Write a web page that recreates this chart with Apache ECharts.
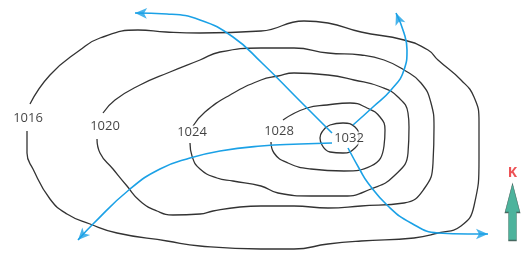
<!DOCTYPE html>
<html>
<head>
<meta charset="utf-8">
<script src="https://cdn.jsdelivr.net/npm/echarts@6/dist/echarts.min.js"></script>
<style>
  html, body { margin: 0; padding: 0; background: #fff; }
  #chart { width: 523px; height: 253px; }
</style>
</head>
<body>
<div id="chart"></div>
<script>
// isobar traces (x, y in picture units, y grows downward)
const iso1016 = [[27,131],[27,153],[33,169],[50,199],[67,214],[90,224],[117,233],[167,241],[200,246],[261,249],[294,249],[328,244],[361,241],[414,238],[438,233],[461,226],[474,206],[479,159],[479,122],[474,97],[461,80],[438,60],[428,50],[404,40],[361,32],[328,23],[304,21],[261,31],[200,33],[166,32],[138,30],[100,38],[80,50],[50,75],[30,104]];
const iso1020 = [[97,139],[100,153],[113,169],[127,186],[140,201],[157,211],[173,215],[200,214],[213,211],[240,207],[261,206],[294,206],[328,208],[361,206],[404,203],[424,189],[433,163],[434,127],[431,103],[421,83],[404,70],[384,60],[361,55],[328,53],[294,48],[261,48],[220,52],[200,60],[170,72],[140,85],[115,100],[103,113]];
const iso1024 = [[190,143],[192,156],[200,169],[217,178],[233,181],[261,186],[278,193],[311,196],[344,196],[371,189],[394,176],[408,153],[409,127],[408,113],[398,97],[381,87],[354,80],[328,75],[294,73],[278,76],[261,80],[230,95],[205,112],[193,126]];
const iso1028 = [[271,142],[274,153],[288,163],[311,169],[344,171],[371,166],[384,146],[385,130],[380,117],[367,108],[350,103],[327,105],[307,108],[283,120]];
const iso1032 = [[322,145],[320,138],[322,132],[330,125],[343,123],[355,127],[359,138],[355,148],[343,153],[330,152],[322,145]];

// airflow from the high centre outward
const flowNW = [[332,133],[297,98],[262,63],[233,37],[200,20],[167,14],[135,13]];
const flowNE = [[353,125],[373,107],[391,90],[404,70],[407,50],[404,33],[396,13]];
const flowSW = [[332,143],[300,144],[261,146],[220,151],[190,158],[160,169],[130,189],[93,224],[78,240]];
const flowSE = [[348,148],[360,170],[368,183],[388,206],[411,223],[438,233],[468,234],[488,234]];

const isoLabels = [
  { name: '1016', value: [28, 118] },
  { name: '1020', value: [105, 126] },
  { name: '1024', value: [192, 132] },
  { name: '1028', value: [279, 131] },
  { name: '1032', value: [349, 138] }
];
const northMark = [512.5, 212];
const northText = 'K';

const chart = echarts.init(document.getElementById('chart'));

function isoLine(data) {
  return {
    type: 'line', data: data, smooth: 0.5, symbol: 'none', silent: true, z: 2,
    lineStyle: { color: '#333', width: 1.3 }
  };
}
function flowLine(data) {
  return {
    type: 'line', data: data, smooth: 0.5, symbol: 'none', silent: true, z: 3,
    lineStyle: { color: '#1ba1e6', width: 1.6 }
  };
}
function headAngle(pts) {
  const a = pts[pts.length - 2], b = pts[pts.length - 1];
  const dx = b[0] - a[0], dy = b[1] - a[1];
  return Math.atan2(-dx, -dy) * 180 / Math.PI;
}
const flows = [flowNW, flowNE, flowSW, flowSE];

chart.setOption({
  animation: false,
  grid: { left: 0, right: 0, top: 0, bottom: 0 },
  xAxis: { type: 'value', min: 0, max: 523, show: false },
  yAxis: { type: 'value', min: 0, max: 253, inverse: true, show: false },
  series: [
    isoLine(iso1016), isoLine(iso1020), isoLine(iso1024), isoLine(iso1028), isoLine(iso1032),
    ...flows.map(flowLine),
    {
      type: 'scatter', z: 4, silent: true,
      data: flows.map(f => ({
        value: f[f.length - 1],
        symbol: 'arrow', symbolSize: [8, 12], symbolRotate: headAngle(f)
      })),
      itemStyle: { color: '#1ba1e6' }
    },
    {
      type: 'scatter', z: 5, silent: true, symbolSize: 1,
      data: isoLabels,
      itemStyle: { color: 'rgba(0,0,0,0)' },
      label: {
        show: true, position: 'inside', formatter: '{b}',
        color: '#111', fontSize: 13, fontFamily: 'Open Sans',
        backgroundColor: '#fff', padding: [0, 1]
      }
    },
    {
      type: 'scatter', z: 5, silent: true,
      data: [{ value: northMark, name: northText }],
      symbol: 'path://M7.5,0 L15,29 L11.5,29 L11.5,57 L3.5,57 L3.5,29 L0,29 Z',
      symbolSize: [15, 57],
      itemStyle: { color: '#20a083', borderColor: '#2e4b45', borderWidth: 0.8 },
      label: {
        show: true, position: 'top', distance: 3, formatter: '{b}',
        color: '#e8262a', fontSize: 14, fontWeight: 'bold', fontFamily: 'Open Sans'
      }
    }
  ]
});
</script>
</body>
</html>
